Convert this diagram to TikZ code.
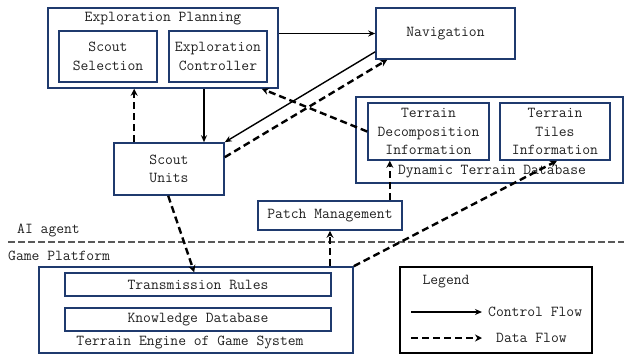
\documentclass[tikz,border=0pt]{standalone}
\usetikzlibrary{arrows.meta,calc}
\definecolor{navy}{HTML}{1F3A6E}
\definecolor{txt}{HTML}{222222}
\begin{document}
\begin{tikzpicture}[x=1pt,y=-1pt,
  every node/.style={font=\ttfamily\fontsize{15.2}{18.5}\selectfont, text=txt, inner sep=0pt},
  box/.style={draw=navy, line width=1.6pt, fill=white, align=center},
  blackbox/.style={draw=black, line width=1.4pt},
  ctrl/.style={line width=1.4pt, -{Stealth[length=7pt,width=6pt]}},
  data/.style={line width=2.4pt, dash pattern=on 7pt off 4pt, -{Stealth[length=7pt,width=7pt]}},
  sep/.style={line width=2.6pt, draw=black!65, dash pattern=on 7pt off 3pt}]
\useasboundingbox (0,0) rectangle (624,354);

% separator
\coordinate (sepL) at (8,242);
\coordinate (sepR) at (624,242);
\draw[sep] (sepL) -- (sepR);
\node[anchor=west] (ai) at (17,230) {AI agent};
\node[anchor=west] (gp) at (8,256) {Game Platform};

% Exploration planning
\node[box, minimum width=230, minimum height=80] (ep) at (163,48) {};
\node (ept) at (163,19) {Exploration Planning};
\node[box, minimum width=98, minimum height=51] (ss) at (108,56.5) {Scout\\Selection};
\node[box, minimum width=98, minimum height=51] (ec) at (218,56.5) {Exploration\\Controller};

% Navigation
\node[box, minimum width=139, minimum height=51] (nav) at (445.5,33.5) {Navigation};

% Dynamic terrain database
\node[box, minimum width=267, minimum height=86] (dtd) at (489.5,140) {};
\node (dtdt) at (492,172) {Dynamic Terrain Database};
\node[box, minimum width=121, minimum height=57] (tdi) at (428.5,131.5) {Terrain\\Decomposition\\Information};
\node[box, minimum width=110, minimum height=57] (tti) at (555,131.5) {Terrain\\Tiles\\Information};

% Scout units
\node[box, minimum width=110, minimum height=52] (su) at (169,169) {Scout\\Units};

% Patch management
\node[box, minimum width=144, minimum height=29] (pm) at (330,215.5) {Patch Management};

% Terrain engine
\node[box, minimum width=314, minimum height=86] (te) at (196,310) {};
\node (tet) at (190,342) {Terrain Engine of Game System};
\node[box, minimum width=266, minimum height=23] (tr) at (198,284.5) {Transmission Rules};
\node[box, minimum width=266, minimum height=23] (kd) at (198,319.5) {Knowledge Database};

% Legend
\node[blackbox, minimum width=192, minimum height=86] (lg) at (496,310) {};
\node (lgt) at (446,282) {Legend};
\coordinate (c1) at (411,312);
\coordinate (c2) at (482,312);
\coordinate (d1) at (411,338);
\coordinate (d2) at (482,338);
\draw[ctrl] (c1) -- (c2);
\draw[data] (d1) -- (d2);
\node[anchor=west] (lc) at (488,312) {Control Flow};
\node[anchor=west] (ld) at (496,338) {Data Flow};

% connectors
\draw[ctrl] (ep.east |- nav) -- (nav.west);
\draw[ctrl] ($(ec.south |- ep.south)+(-14,0)$) -- ($(ec.south |- su.north)+(-14,0)$);
\draw[ctrl] ($(nav.south west)+(0,-8)$) -- (su.north east);
\draw[data] ($(su.north east)+(0,15)$) -- ($(nav.south west)+(12,0)$);
\draw[data] (tdi.west) -- ($(ep.south east)+(-17,0)$);
\draw[data] ($(su.north west)+(21,0)$) -- ($(su.north west |- ep.south)+(21,0)$);
\draw[data] ($(su.south west)+(55,0)$) -- ($(tr.north west)+(130,0)$);
\draw[data] (te.north -| pm) -- (pm.south);
\draw[data] ($(pm.north east)+(-13,0)$) -- ($(pm.north east |- tdi.south)+(-13,0)$);
\draw[data] (te.north east) -- ($(tti.south)+(2,0)$);
\end{tikzpicture}
\end{document}
